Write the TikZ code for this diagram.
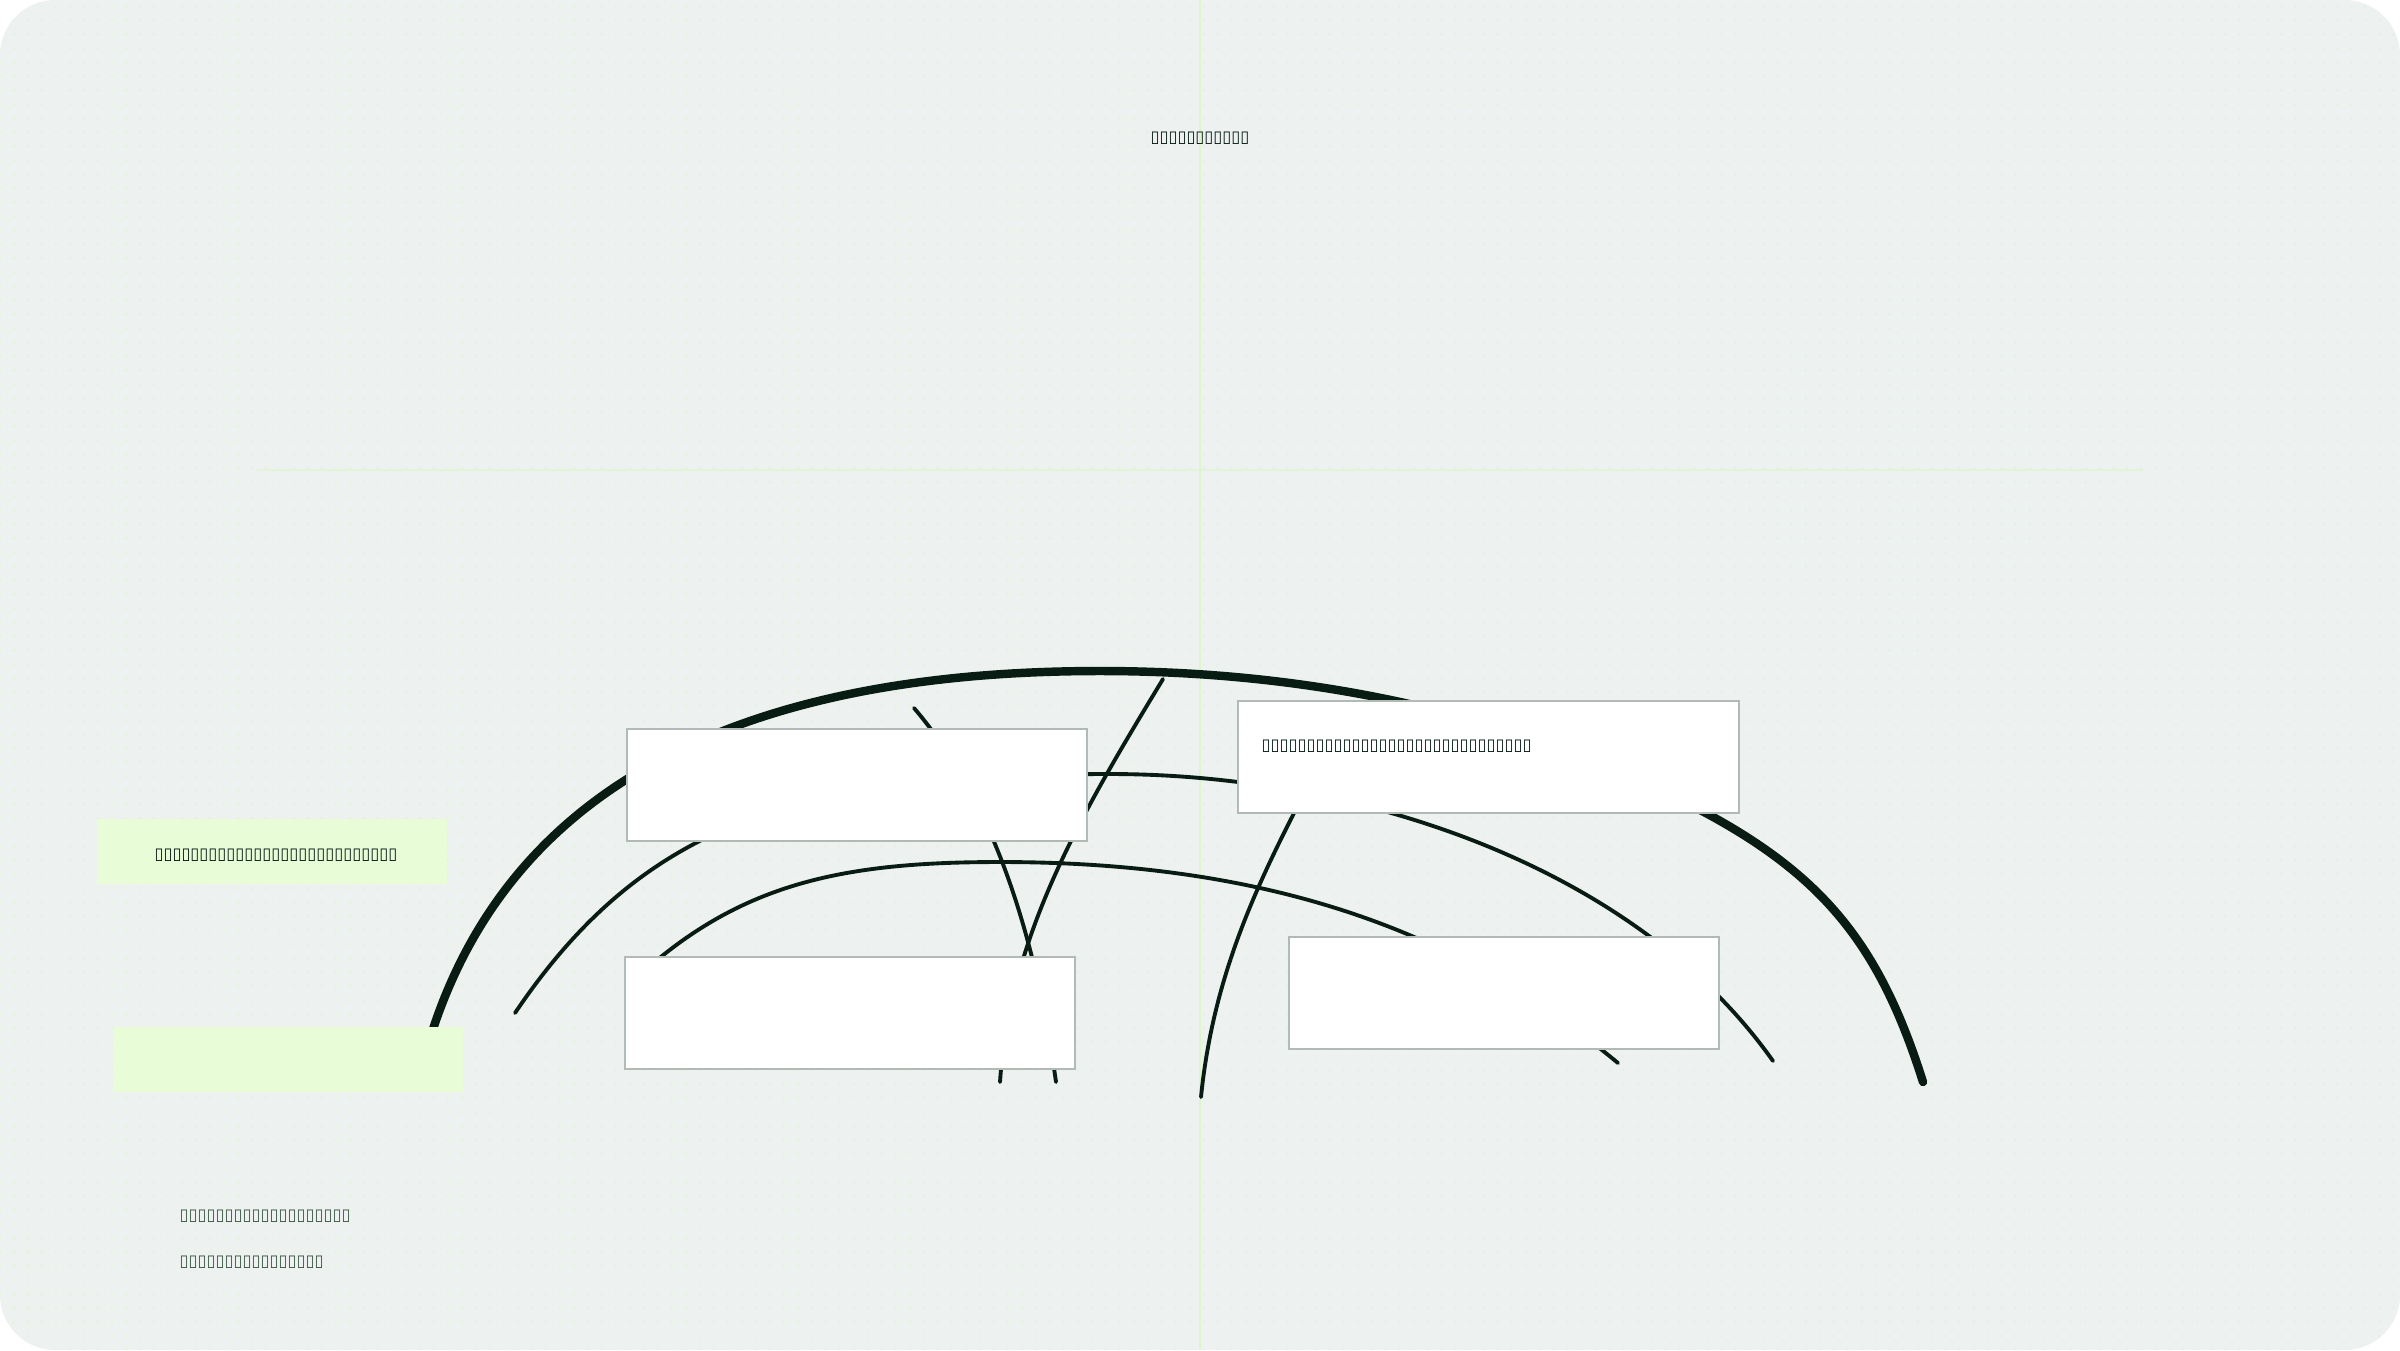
\documentclass[tikz,border=0pt]{standalone}
\usepackage{fontspec}
\setmainfont{DejaVu Sans}
\usetikzlibrary{patterns.meta}

\definecolor{canvas}{RGB}{237,241,239}
\definecolor{ink}{RGB}{8,28,20}
\definecolor{gridgreen}{RGB}{222,244,205}
\definecolor{leaf}{RGB}{232,252,216}
\definecolor{frame}{RGB}{178,186,182}
\definecolor{note}{RGB}{60,88,72}

\tikzdeclarepattern{
  name=gdots,
  type=uncolored,
  bounding box={(-1.99pt,-1.99pt) and (1.99pt,1.99pt)},
  tile size={(3.98pt,3.98pt)},
  code={\fill (0pt,0pt) circle (0.3pt);}
}

\begin{document}
\begin{tikzpicture}[x=0.01cm,y=-0.01cm,
    rim/.style={ink,line width=2.4pt,line cap=round},
    wire/.style={ink,line width=1.1pt,line cap=round},
    card/.style={draw=frame,fill=white,line width=0.5pt,inner sep=0pt,
      anchor=north west,minimum height=1.12cm},
    patch/.style={fill=leaf,inner sep=0pt,anchor=north west,minimum height=0.655cm},
    tofu/.style={inner sep=0pt,font=\fontsize{4.65pt}{5.5pt}\selectfont}]
        \useasboundingbox (0,0) rectangle (2400,1350);
        \fill[canvas,rounded corners=0.55cm] (0,0) rectangle (2400,1350);
        \fill[pattern=gdots,pattern color=gridgreen,rounded corners=0.55cm] (0,0) rectangle (2400,1350);
        % guides
        \draw[gridgreen,line width=0.45pt] (1200,0) -- (1200,1350);
        \draw[gridgreen!70!canvas,line width=0.4pt] (257,470) -- (2143,470);
        % arcs
        \draw[rim] (428,1045) .. controls (498,810) and (705,671) .. (1100,671)
            .. controls (1300,671) and (1510,709) .. (1704,812)
            .. controls (1827,878) and (1881,949) .. (1923,1082);
        \draw[wire] (515,1013) .. controls (649,814) and (810,774) .. (1110,774)
            .. controls (1360,774) and (1636,867) .. (1773,1061);
        \draw[wire] (650,966) .. controls (749,881) and (850,862) .. (1000,862)
            .. controls (1300,862) and (1479,948) .. (1618,1063);
        % crossing lines
        \draw[wire] (914,708) .. controls (992,799) and (1035,933) .. (1056,1082);
        \draw[wire] (1163,679) .. controls (1085,808) and (1010,932) .. (1000,1082);
        \draw[wire] (1310,782) .. controls (1264,871) and (1214,967) .. (1201,1097);
        % boxes
        \node[card,minimum width=4.6cm] (boxA) at (626,728) {};
        \node[card,minimum width=4.5cm] (boxC) at (624,956) {};
        \node[card,minimum width=5.01cm] (boxB) at (1237,700) {};
        \node[card,minimum width=4.3cm] (boxD) at (1288,936) {};
        \node[patch,minimum width=3.5cm] (leafA) at (96,818) {};
        \node[patch,minimum width=3.5cm] (leafB) at (112,1026) {};
        % texts
        \node[tofu,text=ink] (title) at (1200,138) {▯▯▯▯▯▯▯▯▯▯▯};
        \node[tofu,text=ink] (leafAtext) at (276,855) {▯▯▯▯▯▯▯▯▯▯▯▯▯▯▯▯▯▯▯▯▯▯▯▯▯▯▯};
        \node[tofu,text=ink,anchor=west] (boxBtext) at (1261,746) {▯▯▯▯▯▯▯▯▯▯▯▯▯▯▯▯▯▯▯▯▯▯▯▯▯▯▯▯▯▯};
        \node[tofu,text=note,anchor=west] (noteA) at (179,1216) {▯▯▯▯▯▯▯▯▯▯▯▯▯▯▯▯▯▯▯};
        \node[tofu,text=note,anchor=west] (noteB) at (179,1262) {▯▯▯▯▯▯▯▯▯▯▯▯▯▯▯▯};
\end{tikzpicture}
\end{document}
